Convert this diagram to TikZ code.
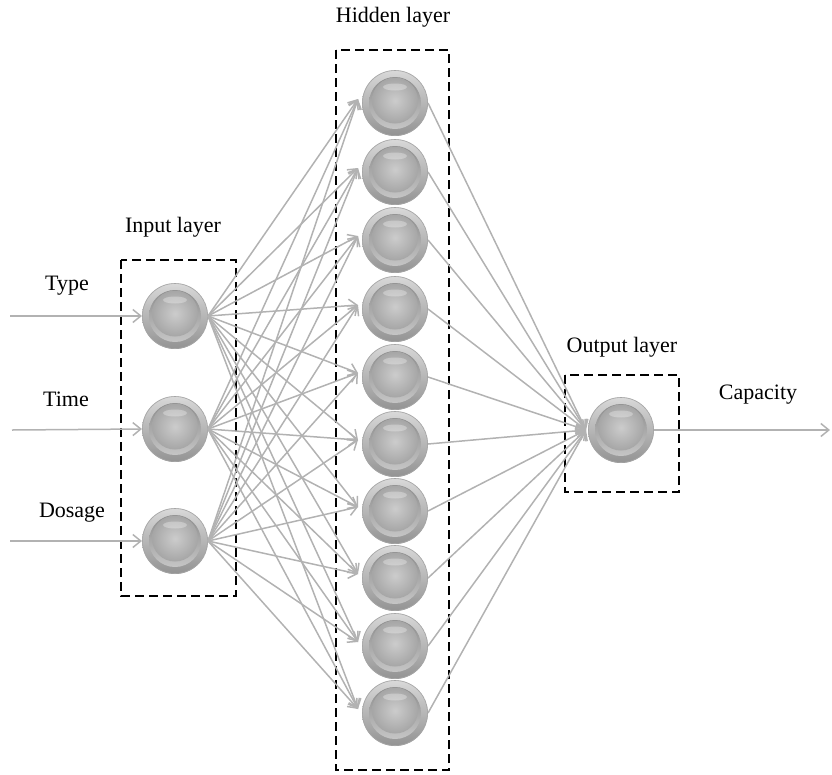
\documentclass[tikz,border=0pt]{standalone}
\usepackage{fontspec}
\setmainfont{Liberation Serif}
\usetikzlibrary{arrows.meta}
\tikzset{
  neuron/.style={circle, minimum size=66pt, inner sep=0pt, outer sep=0pt,
    path picture={
      \coordinate (pc) at (path picture bounding box.center);
      \shade[top color=gray!30, bottom color=gray!85] (pc) circle (33pt);
      \draw[gray!70, line width=0.6pt] (pc) circle (32.5pt);
      \shade[top color=gray!90, bottom color=gray!45] (pc) circle (26pt);
      \shade[inner color=gray!40, outer color=gray!70] ([yshift=2.5pt]pc) circle (23pt);
      \fill[white, opacity=0.3] ([yshift=16pt]pc) ellipse (12pt and 3.5pt);
    }},
  layerbox/.style={draw=black, line width=1.4pt, dash pattern=on 9pt off 5pt},
  link/.style={draw=gray!60, line width=1.5pt,
    -{Straight Barb[length=8pt,width=13pt,line width=1.5pt]}},
  lbl/.style={font=\fontsize{22}{26}\selectfont, inner sep=0pt}
}
\begin{document}
\begin{tikzpicture}[x=1pt,y=-1pt]
  \useasboundingbox (0,0) rectangle (832,774);

  % layer frames
  \draw[layerbox] (121,260) rectangle (236,596);
  \draw[layerbox] (336,50) rectangle (449,770);
  \draw[layerbox] (565,375) rectangle (679,492);

  % layer titles
  \node[lbl] (tin)  at (173,227) {Input layer};
  \node[lbl] (thid) at (393,17)  {Hidden layer};
  \node[lbl] (tout) at (622,347) {Output layer};

  % input neurons
  \node[neuron] (i1) at (175,316) {};
  \node[neuron] (i2) at (175,429) {};
  \node[neuron] (i3) at (175,541) {};

  % hidden neurons
  \foreach \k/\y in {1/103,2/172,3/240,4/309,5/377,6/444,7/511,8/578,9/646,10/713}
    \node[neuron] (h\k) at (395,\y) {};

  % output neuron
  \node[neuron] (o) at (621,430) {};

  % input variables
  \node[lbl] (ltype) at (67,286)  {Type};
  \node[lbl] (ltime) at (66,399)  {Time};
  \node[lbl] (ldose) at (72,513)  {Dosage};
  \node[lbl] (lcap)  at (758,395) {Capacity};

  \coordinate (s1) at (10,316);
  \coordinate (s2) at (12,430);
  \coordinate (s3) at (10,541);
  \coordinate (e)  at (830,430);

  \draw[link] (s1) -- (i1.west);
  \draw[link] (s2) -- (i2.west);
  \draw[link] (s3) -- (i3.west);

  % input -> hidden
  \foreach \a in {1,2,3}
    \foreach \b in {1,...,10}
      \draw[link] (i\a.east) -- ([xshift=-4pt,yshift=4pt]h\b.west);

  % hidden -> output
  \foreach \b in {1,...,10}
    \draw[link] (h\b.east) -- ([xshift=-2pt]o.west);

  \draw[link] (o.east) -- (e);
\end{tikzpicture}
\end{document}
